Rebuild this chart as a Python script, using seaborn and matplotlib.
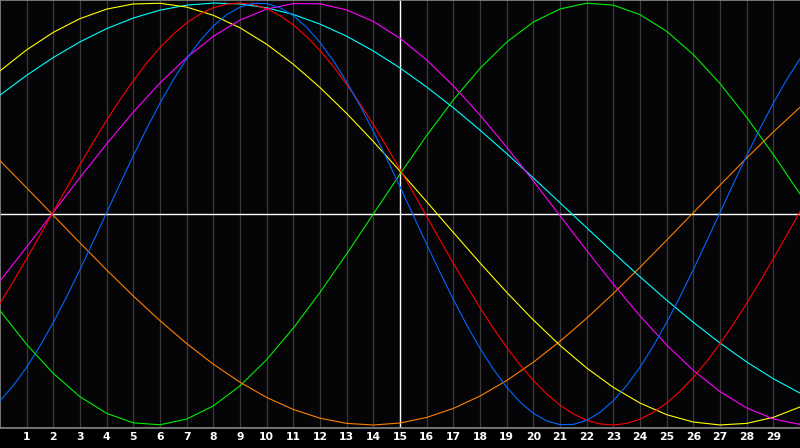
import matplotlib
matplotlib.use("Agg")
import matplotlib.pyplot as plt
import seaborn as sns
import pandas as pd

days = list(range(0, 31))
half_days = [i / 2 for i in range(0, 61)]
tick_days = list(range(1, 30))
tick_labels = [str(d) for d in tick_days]

# sampled every half day
physical = [-0.8848, -0.8131, -0.7260, -0.6257, -0.5137, -0.3921, -0.2632, -0.1293, 0.0068, 0.1430,
            0.2764, 0.4047, 0.5255, 0.6363, 0.7355, 0.8207, 0.8910, 0.9446, 0.9804, 0.9981,
            0.9972, 0.9777, 0.9399, 0.8848, 0.8131, 0.7260, 0.6257, 0.5137, 0.3921, 0.2632,
            0.1293, -0.0068, -0.1430, -0.2764, -0.4047, -0.5255, -0.6363, -0.7355, -0.8207, -0.8910,
            -0.9446, -0.9804, -0.9981, -0.9972, -0.9777, -0.9399, -0.8848, -0.8131, -0.7260, -0.6257,
            -0.5137, -0.3921, -0.2632, -0.1293, 0.0068, 0.1430, 0.2764, 0.4047, 0.5255, 0.6363, 0.7355]
emotional = [-0.4237, -0.3197, -0.2116, -0.1008, 0.0112, 0.1231, 0.2334, 0.3408, 0.4439, 0.5416,
             0.6322, 0.7151, 0.7887, 0.8526, 0.9058, 0.9475, 0.9774, 0.9949, 0.9999, 0.9924,
             0.9724, 0.9401, 0.8960, 0.8406, 0.7746, 0.6993, 0.6147, 0.5225, 0.4237, 0.3197,
             0.2116, 0.1008, -0.0112, -0.1231, -0.2334, -0.3408, -0.4439, -0.5416, -0.6322, -0.7151,
             -0.7887, -0.8526, -0.9058, -0.9475, -0.9774, -0.9949, -0.9999, -0.9924, -0.9724, -0.9401,
             -0.8960, -0.8406, -0.7746, -0.6993, -0.6147, -0.5225, -0.4237, -0.3197, -0.2116, -0.1008, 0.0112]
# sampled every day
intellectual = [-0.4582, -0.6182, -0.7557, -0.8660, -0.9450, -0.9898, -0.9989, -0.9718, -0.9096, -0.8146,
                -0.6901, -0.5407, -0.3717, -0.1893, 0.0, 0.1893, 0.3717, 0.5407, 0.6901, 0.8146,
                0.9096, 0.9718, 0.9989, 0.9898, 0.9450, 0.8660, 0.7557, 0.6182, 0.4582, 0.2817, 0.0950]
intuitive = [-0.3169, -0.1564, 0.0083, 0.1728, 0.3325, 0.4832, 0.6207, 0.7413, 0.8418, 0.9190,
             0.9714, 0.9972, 0.9959, 0.9673, 0.9125, 0.8326, 0.7300, 0.6077, 0.4687, 0.3169,
             0.1564, -0.0083, -0.1728, -0.3325, -0.4832, -0.6207, -0.7413, -0.8418, -0.9190, -0.9714, -0.9972]
aesthetic = [0.6782, 0.7780, 0.8611, 0.9259, 0.9711, 0.9955, 0.9987, 0.9806, 0.9416, 0.8825,
             0.8046, 0.7097, 0.5995, 0.4766, 0.3435, 0.2031, 0.0584, -0.0875, -0.2318, -0.3709,
             -0.5021, -0.6227, -0.7299, -0.8217, -0.8960, -0.9511, -0.9859, -0.9998, -0.9923, -0.9637, -0.9146]
awareness = [0.2525, 0.1240, -0.0065, -0.1370, -0.2652, -0.3888, -0.5057, -0.6139, -0.7117, -0.7973,
             -0.8693, -0.9264, -0.9676, -0.9923, -1.0000, -0.9906, -0.9642, -0.9214, -0.8627, -0.7893,
             -0.7024, -0.6032, -0.4943, -0.3766, -0.2525, -0.1240, 0.0065, 0.1370, 0.2652, 0.3888, 0.5057]
spiritual = [0.5635, 0.6574, 0.7418, 0.8159, 0.8786, 0.9289, 0.9662, 0.9899, 0.9997, 0.9955,
             0.9773, 0.9454, 0.9002, 0.8425, 0.7727, 0.6922, 0.6019, 0.5034, 0.3977, 0.2864,
             0.1711, 0.0534, -0.0652, -0.1827, -0.2977, -0.4085, -0.5136, -0.6116, -0.7010, -0.7806, -0.8488]

series = {
    "intellectual": (days, intellectual),
    "awareness": (days, awareness),
    "spiritual": (days, spiritual),
    "aesthetic": (days, aesthetic),
    "intuitive": (days, intuitive),
    "emotional": (half_days, emotional),
    "physical": (half_days, physical),
}
palette = {
    "intellectual": "#00ee00",
    "awareness": "#ff7f00",
    "spiritual": "#00ffff",
    "aesthetic": "#ffff00",
    "intuitive": "#ff00ff",
    "emotional": "#ff0000",
    "physical": "#0066ff",
}

rows = []
for name, (xs, vals) in series.items():
    for d, v in zip(xs, vals):
        rows.append({"day": d, "value": v, "cycle": name})
df = pd.DataFrame(rows)

sns.set_theme(style="dark")
fig = plt.figure(figsize=(8, 4.48), dpi=100)
fig.patch.set_facecolor("#000000")
ax = fig.add_axes([0, 20 / 448, 1, 428 / 448])
ax.set_facecolor("#050508")

for d in tick_days:
    ax.axvline(d, color="#ffffff" if d == 15 else "#3a3a3a", lw=1.0 if d == 15 else 0.9, zorder=1)
ax.axhline(0, color="#ffffff", lw=1.0, zorder=1)

sns.lineplot(data=df, x="day", y="value", hue="cycle", palette=palette,
             hue_order=list(series.keys()), estimator=None, sort=False,
             linewidth=0.8, legend=False, ax=ax, zorder=3)

ax.set_xlim(0, 30)
ax.set_ylim(-1.0142, 1.0142)
ax.set_xticks(tick_days)
ax.set_xticklabels(tick_labels, color="white", fontweight="bold", fontsize=7.8,
                   family="DejaVu Sans")
ax.set_yticks([])
ax.tick_params(axis="x", length=0, pad=3.0)
ax.set_xlabel("")
ax.set_ylabel("")
ax.grid(False)
for side in ["left", "top", "bottom"]:
    ax.spines[side].set_visible(True)
    ax.spines[side].set_color("#8a8a8a")
    ax.spines[side].set_linewidth(1.2)
ax.spines["right"].set_visible(False)

fig.savefig("out.png", dpi=100, facecolor=fig.get_facecolor())
